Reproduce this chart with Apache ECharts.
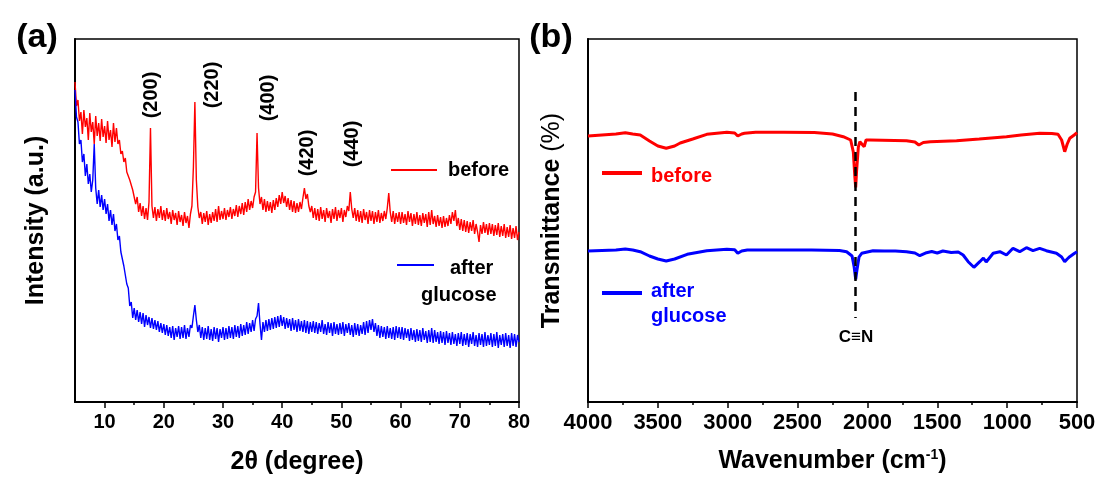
<!DOCTYPE html>
<html>
<head>
<meta charset="utf-8">
<title>XRD and FTIR</title>
<script src="https://cdn.jsdelivr.net/npm/echarts@6/dist/echarts.min.js"></script>
<style>
    html, body { margin: 0; padding: 0; background: #fff; }
    #main { width: 1103px; height: 481px; }
</style>
</head>
<body>
<div id="main"></div>
<script>
// (a) XRD, scanned from 5 to 80 deg, one reading per 0.25 deg
var xrdStart = 5, xrdStep = 0.25;
var xrdBefore = [
    320, 296, 302, 281, 290, 268, 292, 275, 284, 262, 289, 270, 280, 258, 286, 266, 279, 261, 283, 265,
    276, 259, 281, 262, 272, 255, 279, 260, 274, 258, 262, 248, 251, 240, 244, 230, 232, 222, 224, 212,
    212, 198, 205, 190, 199, 186, 196, 183, 194, 182, 200, 274, 196, 184, 195, 181, 193, 184, 196, 182,
    192, 181, 194, 183, 190, 178, 192, 182, 189, 177, 191, 180, 187, 176, 190, 179, 186, 174, 188, 196,
    235, 300, 222, 195, 184, 190, 178, 189, 180, 191, 177, 188, 179, 190, 181, 193, 180, 196, 182, 191,
    183, 194, 182, 192, 185, 195, 183, 193, 186, 197, 185, 196, 188, 199, 187, 200, 190, 203, 192, 201,
    194, 205, 210, 269, 214, 198, 205, 192, 203, 190, 201, 191, 200, 189, 202, 192, 204, 195, 207, 198,
    210, 199, 206, 195, 204, 192, 202, 190, 201, 189, 199, 190, 200, 193, 204, 214, 203, 208, 196, 190,
    196, 184, 194, 182, 193, 181, 195, 183, 192, 180, 194, 184, 191, 179, 193, 183, 195, 181, 192, 184,
    194, 180, 192, 185, 196, 191, 210, 193, 184, 194, 181, 192, 180, 191, 179, 193, 182, 190, 178, 192,
    181, 191, 178, 190, 180, 192, 179, 189, 181, 191, 183, 194, 209, 190, 180, 191, 178, 189, 180, 190,
    178, 190, 179, 188, 177, 191, 180, 189, 176, 188, 178, 190, 177, 187, 176, 189, 179, 188, 175, 190,
    177, 192, 178, 186, 175, 187, 176, 185, 174, 186, 175, 184, 176, 187, 178, 190, 181, 192, 176, 184,
    172, 183, 171, 182, 170, 181, 169, 180, 171, 182, 168, 178, 170, 160, 177, 168, 180, 169, 178, 167,
    179, 168, 178, 166, 177, 167, 179, 165, 176, 166, 178, 164, 175, 165, 177, 163, 174, 164, 176, 162,
    170
];
var xrdAfter = [
    312, 285, 280, 258, 262, 240, 248, 226, 238, 218, 228, 210, 222, 258, 214, 198, 212, 195, 207, 192,
    203, 188, 198, 181, 192, 177, 188, 171, 178, 162, 166, 150, 152, 136, 135, 118, 114, 96, 100, 84,
    94, 82, 92, 80, 90, 78, 89, 75, 87, 77, 85, 74, 84, 73, 82, 72, 81, 70, 79, 69,
    78, 67, 77, 66, 75, 64, 76, 62, 74, 65, 76, 63, 75, 64, 77, 63, 74, 65, 77, 74,
    86, 97, 82, 70, 77, 64, 75, 62, 74, 63, 76, 62, 73, 61, 75, 63, 74, 60, 73, 64,
    75, 62, 74, 63, 76, 64, 75, 63, 77, 65, 76, 64, 78, 66, 77, 67, 80, 68, 79, 70,
    82, 71, 83, 86, 99, 78, 62, 80, 70, 82, 71, 83, 72, 84, 73, 85, 74, 86, 75, 87,
    76, 85, 73, 84, 74, 83, 71, 84, 72, 82, 70, 83, 71, 81, 70, 82, 69, 81, 68, 80,
    70, 81, 69, 80, 68, 79, 70, 82, 68, 78, 67, 80, 69, 79, 66, 80, 68, 78, 67, 79,
    68, 80, 66, 78, 69, 79, 67, 77, 65, 79, 67, 78, 66, 77, 68, 80, 67, 81, 69, 82,
    72, 83, 70, 79, 66, 77, 64, 76, 65, 75, 63, 76, 64, 74, 63, 75, 62, 76, 64, 75,
    63, 75, 62, 74, 64, 73, 61, 74, 62, 72, 60, 73, 61, 72, 60, 74, 62, 71, 59, 72,
    60, 74, 59, 72, 60, 70, 58, 71, 59, 70, 57, 71, 59, 69, 57, 70, 58, 68, 56, 69,
    58, 70, 56, 68, 57, 69, 55, 68, 58, 70, 56, 67, 55, 69, 57, 68, 55, 70, 56, 67,
    57, 69, 55, 68, 56, 70, 54, 67, 57, 68, 55, 69, 56, 67, 54, 69, 56, 68, 55, 67,
    60
];
var xrdTicks = [10, 20, 30, 40, 50, 60, 70, 80];
var xrdMinorTicks = [15, 25, 35, 45, 55, 65, 75];
var peakNames = ['(200)', '(220)', '(400)', '(420)', '(440)'];

// (b) FTIR
var ftirBeforeWave = [4000, 3900, 3800, 3733, 3680, 3626, 3560, 3500, 3440, 3380, 3340, 3250, 3150, 3006, 2950, 2928, 2900, 2880, 2800, 2600, 2380, 2250, 2173, 2120, 2101, 2090, 2084, 2078, 2065, 2054, 2040, 2023, 2010, 1982, 1720, 1660, 1632, 1600, 1550, 1362, 1200, 1005, 900, 767, 680, 636, 610, 588, 570, 552, 520, 500];
var ftirBeforeT = [266, 267, 268, 269.3, 268, 267, 261, 256, 253.7, 256, 259, 263, 267.7, 269.7, 269, 266, 268, 268.7, 269.7, 269.7, 269.5, 268, 265.3, 262, 250, 225, 214.7, 230, 255, 260.3, 262, 255.3, 262, 262, 261.3, 260, 257, 259.5, 260.3, 261.3, 263, 265.3, 267, 268.7, 268.5, 267.7, 262, 250.3, 258, 263.7, 267, 269.3];
var ftirAfterWave = [4000, 3900, 3800, 3733, 3680, 3626, 3560, 3500, 3440, 3380, 3290, 3150, 3006, 2950, 2928, 2900, 2860, 2700, 2400, 2200, 2149, 2110, 2095, 2084, 2075, 2060, 2041, 1960, 1880, 1800, 1720, 1660, 1625, 1577, 1540, 1500, 1460, 1400, 1350, 1315, 1279, 1238, 1196, 1170, 1150, 1100, 1052, 1005, 958, 910, 862, 815, 767, 720, 647, 610, 588, 570, 552, 520, 500];
var ftirAfterT = [151, 151.5, 152, 153, 152, 150.3, 146, 143, 141, 143, 147.7, 151.3, 152.7, 152.3, 148.7, 151, 152, 152, 152, 151.5, 150.3, 146, 135, 122.7, 132, 145, 148.7, 151.3, 151, 151, 150.3, 149, 146.3, 149.3, 150.5, 149, 151, 149.5, 150, 147, 140.3, 134.7, 140.3, 144, 140, 148.7, 150.3, 147, 153.7, 150.3, 154.3, 151.3, 153.7, 151.3, 148.7, 145, 140.3, 143, 145.3, 148.5, 150.3];
var cnWave = 2084;

var FONT = 'Liberation Sans, Arial, Helvetica, sans-serif';

(function () {
    var chart = echarts.init(document.getElementById('main'));

    function pairs(xs, ys) {
        return ys.map(function (v, i) { return [xs[i], v]; });
    }
    var xrdAngle = xrdBefore.map(function (v, i) { return xrdStart + i * xrdStep; });

    var axisLineStyle = { color: '#000', width: 2 };
    var tickStyle = { color: '#000', width: 1.5 };

    function txt(x, y, text, size, opt) {
        opt = opt || {};
        return {
            type: 'text',
            x: x,
            y: y,
            rotation: opt.rotation || 0,
            style: {
                text: text,
                fill: opt.color || '#000',
                font: 'bold ' + size + 'px ' + FONT,
                align: opt.align || 'left',
                verticalAlign: 'middle'
            }
        };
    }
    function legendLine(x1, x2, y, color, w) {
        return {
            type: 'line',
            shape: { x1: x1, y1: y, x2: x2, y2: y },
            style: { stroke: color, lineWidth: w }
        };
    }

    var peakPos = [[151, 95], [212, 85], [268, 98], [307, 153], [352, 144]];
    var graphics = [
        txt(37, 38, '(a)', 34, { align: 'center' }),
        txt(551, 38, '(b)', 34, { align: 'center' }),
        legendLine(391, 437, 170, '#ff0000', 2),
        txt(448, 170, 'before', 20),
        legendLine(397, 434, 265, '#0000ff', 2),
        txt(450, 268, 'after', 20),
        txt(421, 295, 'glucose', 20),
        legendLine(602, 642, 173, '#ff0000', 4),
        txt(651, 176, 'before', 20, { color: '#ff0000' }),
        legendLine(602, 642, 293, '#0000ff', 4),
        txt(651, 291, 'after', 20, { color: '#0000ff' }),
        txt(651, 316, 'glucose', 20, { color: '#0000ff' }),
        txt(856, 337, 'C\u2261N', 17, { align: 'center' })
    ];
    peakNames.forEach(function (name, i) {
        graphics.push(txt(peakPos[i][0], peakPos[i][1], name, 20, { align: 'center', rotation: Math.PI / 2 }));
    });

    var option = {
        animation: false,
        backgroundColor: '#fff',
        textStyle: { fontFamily: FONT },
        grid: [
            { left: 75, top: 39, width: 444, height: 363, show: true, borderColor: '#000', borderWidth: 1.5 },
            { left: 588, top: 39, width: 489, height: 363, show: true, borderColor: '#000', borderWidth: 1.5 }
        ],
        xAxis: [
            {
                gridIndex: 0,
                type: 'value',
                min: 5,
                max: 80,
                position: 'bottom',
                name: '2\u03b8 (degree)',
                nameLocation: 'middle',
                nameGap: 48,
                nameTextStyle: { color: '#000', fontWeight: 'bold', fontSize: 25, fontFamily: FONT },
                axisLine: { lineStyle: axisLineStyle },
                axisTick: { customValues: xrdTicks, length: 6, lineStyle: tickStyle },
                axisLabel: { customValues: xrdTicks, color: '#000', fontWeight: 'bold', fontSize: 20, margin: 10, fontFamily: FONT },
                splitLine: { show: false }
            },
            {
                gridIndex: 0,
                type: 'value',
                min: 5,
                max: 80,
                position: 'bottom',
                axisLine: { show: false },
                axisTick: { customValues: xrdMinorTicks, length: 3, lineStyle: tickStyle },
                axisLabel: { show: false },
                splitLine: { show: false }
            },
            {
                gridIndex: 1,
                type: 'value',
                inverse: true,
                min: 500,
                max: 4000,
                interval: 500,
                position: 'bottom',
                name: 'Wavenumber (cm{sup|-1})',
                nameLocation: 'middle',
                nameGap: 46,
                nameTextStyle: {
                    color: '#000', fontWeight: 'bold', fontSize: 25, fontFamily: FONT,
                    rich: { sup: { fontSize: 14, fontWeight: 'bold', verticalAlign: 'top', padding: [0, 0, 12, 0] } }
                },
                axisLine: { lineStyle: axisLineStyle },
                axisTick: { length: 6, lineStyle: tickStyle },
                minorTick: { show: true, splitNumber: 2, length: 3, lineStyle: tickStyle },
                axisLabel: {
                    color: '#000', fontWeight: 'bold', fontSize: 22, margin: 10, fontFamily: FONT,
                    formatter: function (v) { return String(v); }
                },
                splitLine: { show: false },
                minorSplitLine: { show: false }
            }
        ],
        yAxis: [
            {
                gridIndex: 0,
                type: 'value',
                min: 0,
                max: 363,
                name: 'Intensity (a.u.)',
                nameLocation: 'middle',
                nameGap: 26,
                nameTextStyle: { color: '#000', fontWeight: 'bold', fontSize: 25, fontFamily: FONT },
                axisLine: { show: true, lineStyle: axisLineStyle },
                axisTick: { show: false },
                axisLabel: { show: false },
                splitLine: { show: false }
            },
            {
                gridIndex: 1,
                type: 'value',
                min: 0,
                max: 363,
                name: 'Transmittance {n|(%)}',
                nameLocation: 'middle',
                nameGap: 23,
                nameTextStyle: {
                    color: '#000', fontWeight: 'bold', fontSize: 25, fontFamily: FONT,
                    rich: { n: { fontWeight: 'normal', fontSize: 25 } }
                },
                axisLine: { show: true, lineStyle: axisLineStyle },
                axisTick: { show: false },
                axisLabel: { show: false },
                splitLine: { show: false }
            }
        ],
        series: [
            {
                name: 'before',
                type: 'line',
                xAxisIndex: 0,
                yAxisIndex: 0,
                showSymbol: false,
                lineStyle: { color: '#ff0000', width: 1.4 },
                data: pairs(xrdAngle, xrdBefore)
            },
            {
                name: 'after glucose',
                type: 'line',
                xAxisIndex: 0,
                yAxisIndex: 0,
                showSymbol: false,
                lineStyle: { color: '#0000ff', width: 1.4 },
                data: pairs(xrdAngle, xrdAfter)
            },
            {
                name: 'before ',
                type: 'line',
                xAxisIndex: 2,
                yAxisIndex: 1,
                showSymbol: false,
                lineStyle: { color: '#ff0000', width: 3 },
                data: pairs(ftirBeforeWave, ftirBeforeT),
                markLine: {
                    silent: true,
                    symbol: 'none',
                    label: { show: false },
                    lineStyle: { color: '#000', width: 2.5, type: [9, 6] },
                    data: [[{ coord: [cnWave, 310] }, { coord: [cnWave, 84] }]]
                }
            },
            {
                name: 'after glucose ',
                type: 'line',
                xAxisIndex: 2,
                yAxisIndex: 1,
                showSymbol: false,
                lineStyle: { color: '#0000ff', width: 3 },
                data: pairs(ftirAfterWave, ftirAfterT)
            }
        ],
        graphic: graphics
    };

    chart.setOption(option);
})();
</script>
</body>
</html>
